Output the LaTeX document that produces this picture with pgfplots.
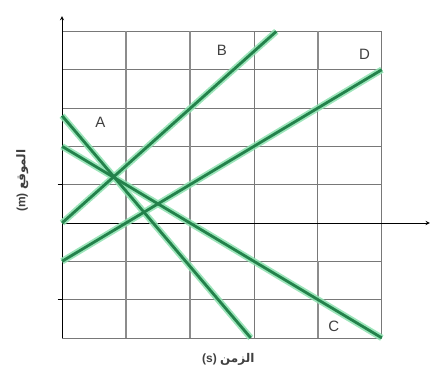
\documentclass[border=0pt]{standalone}
\usepackage{pgfplots}
\pgfplotsset{compat=1.18}
\usepackage{fontspec}
\setmainfont{Liberation Sans}
\newfontfamily\arabicfont[Script=Arabic]{DejaVu Sans}
\TeXXeTstate=1
\definecolor{lcore}{RGB}{35,130,75}
\definecolor{lglow}{RGB}{140,225,175}
\definecolor{gthick}{RGB}{140,140,140}
\definecolor{gthin}{RGB}{120,120,120}
\begin{document}
\begin{tikzpicture}
\begin{axis}[
  width=433pt, height=377pt, scale only axis,
  xmin=-0.97, xmax=5.8, ymin=-4.02, ymax=5.82,
  axis lines=none, clip=false,
]
\path (rel axis cs:0,0) rectangle (rel axis cs:1,1);
% grid
\foreach \yy in {-3,-2,-1,1,2,3,4,5} {
  \edef\tmp{\noexpand\draw[gthin, line width=0.8pt] (axis cs:0,\yy) -- (axis cs:5,\yy);}\tmp
}
\draw[gthick, line width=2.6pt] (axis cs:1,-3) -- (axis cs:1,5);
\draw[gthick, line width=2.6pt] (axis cs:2,-3) -- (axis cs:2,5);
\draw[gthin, line width=0.8pt] (axis cs:3,-3) -- (axis cs:3,5);
\draw[gthin, line width=0.8pt] (axis cs:4,-3) -- (axis cs:4,5);
\draw[gthick, line width=2.4pt] (axis cs:4,4) -- (axis cs:4,5);
\draw[gthick, line width=2.4pt] (axis cs:4,-1) -- (axis cs:4,-3);
\draw[gthin, line width=0.8pt] (axis cs:5,-3) -- (axis cs:5,5);
% axes
\draw[black, line width=0.9pt, -stealth] (axis cs:0,-3) -- (axis cs:0,5.4);
\draw[black, line width=0.9pt, -stealth] (axis cs:0,0) -- (axis cs:5.75,0);
\draw[black, line width=1pt] (axis cs:-0.07,1) -- (axis cs:0,1);
\draw[black, line width=1pt] (axis cs:-0.07,-2) -- (axis cs:0,-2);
% lines: glow
\addplot[lglow, line width=6.5pt, opacity=0.85] coordinates {(0,2.8) (2.95,-3)};
\addplot[lglow, line width=6.5pt, opacity=0.85] coordinates {(0,0) (3.35,5)};
\addplot[lglow, line width=6.5pt, opacity=0.85] coordinates {(0,2) (5,-3)};
\addplot[lglow, line width=6.5pt, opacity=0.85] coordinates {(0,-1) (5,4)};
% lines: core
\addplot[lcore, line width=2.8pt] coordinates {(0,2.8) (2.95,-3)};
\addplot[lcore, line width=2.8pt] coordinates {(0,0) (3.35,5)};
\addplot[lcore, line width=2.8pt] coordinates {(0,2) (5,-3)};
\addplot[lcore, line width=2.8pt] coordinates {(0,-1) (5,4)};
% labels
\node[font=\fontsize{15}{18}\selectfont, text=black!75] at (axis cs:0.6,2.62) {A};
\node[font=\fontsize{15}{18}\selectfont, text=black!75] at (axis cs:2.5,4.5) {B};
\node[font=\fontsize{15}{18}\selectfont, text=black!75] at (axis cs:4.73,4.4) {D};
\node[font=\fontsize{15}{18}\selectfont, text=black!75] at (axis cs:4.25,-2.7) {C};
% axis titles
\node[font=\fontsize{12}{14}\selectfont\bfseries, text=black!75] at (axis cs:2.6,-3.55)
  {(s)\ {\arabicfont\bfseries\beginR الزمن\endR}};
\node[font=\fontsize{12}{14}\selectfont\bfseries, text=black!75, rotate=90] at (axis cs:-0.62,1.1)
  {(m)\ {\arabicfont\bfseries\beginR الموقع\endR}};
\end{axis}
\end{tikzpicture}
\end{document}
